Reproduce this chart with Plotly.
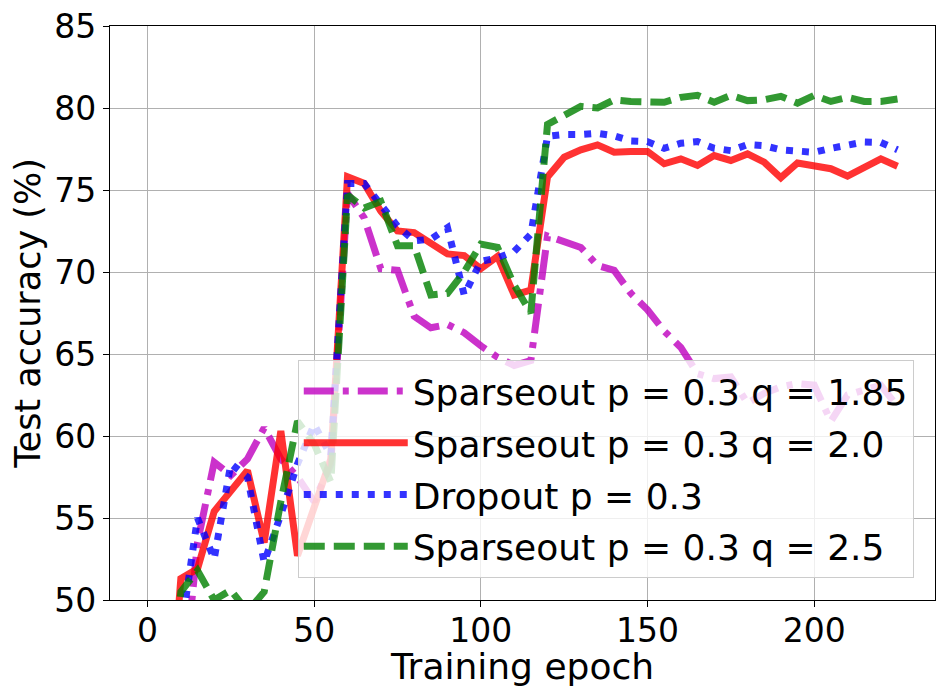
import plotly.graph_objects as go

epochs = [0, 5, 10, 15, 20, 25, 30, 35, 40, 45, 50, 55, 60, 65, 70, 75, 80, 85, 90, 95,
          100, 105, 110, 115, 120, 125, 130, 135, 140, 145, 150, 155, 160, 165, 170, 175,
          180, 185, 190, 195, 200, 205, 210, 215, 220, 225]

sparse_q185 = [18.0, 33.0, 43.0, 53.5, 58.4, 57.6, 58.6, 60.5, 58.6, 57.5,
               56.0, 58.3, 74.8, 73.3, 70.2, 70.1, 67.3, 66.6, 66.8, 66.3,
               65.5, 64.8, 64.3, 64.6, 72.2, 71.9, 71.5, 70.4, 70.1, 68.7,
               67.7, 66.4, 65.4, 63.8, 63.5, 63.6, 62.0, 62.6, 63.0, 63.2,
               63.1, 60.9, 62.5, 62.8, 63.1, 61.8]

sparse_q20 = [22.0, 38.0, 51.3, 51.9, 55.4, 56.7, 57.9, 53.5, 60.3, 52.7,
              55.7, 58.6, 75.8, 75.4, 73.7, 72.5, 72.4, 71.7, 71.1, 71.0,
              70.2, 70.95, 68.6, 68.9, 75.8, 77.0, 77.45, 77.75, 77.3, 77.35,
              77.35, 76.6, 76.9, 76.5, 77.1, 76.8, 77.2, 76.7, 75.75, 76.65,
              76.45, 76.3, 75.85, 76.4, 76.9, 76.45]

dropout_p03 = [20.0, 38.0, 48.0, 55.0, 52.5, 58.3, 57.5, 52.3, 55.2, 58.3,
               60.7, 58.8, 75.4, 75.4, 74.1, 72.8, 71.9, 72.0, 72.7, 68.6,
               70.65, 70.85, 71.25, 72.3, 78.27, 78.38, 78.38, 78.45, 78.3, 77.99,
               77.95, 77.54, 77.85, 77.95, 77.54, 77.4, 77.77, 77.7, 77.45, 77.34,
               77.3, 77.54, 77.75, 77.93, 77.9, 77.45]

sparse_q25 = [21.0, 40.0, 50.5, 51.8, 50.0, 50.6, 49.3, 50.5, 56.0, 60.9,
              59.5, 57.2, 74.7, 73.9, 74.3, 71.6, 71.6, 68.6, 68.7, 70.0,
              71.7, 71.5, 69.2, 67.5, 79.0, 79.6, 80.1, 80.0, 80.5, 80.4,
              80.4, 80.35, 80.65, 80.77, 80.35, 80.77, 80.45, 80.5, 80.71, 80.3,
              80.77, 80.4, 80.65, 80.4, 80.4, 80.55]

series_names = ["Sparseout p = 0.3 q = 1.85", "Sparseout p = 0.3 q = 2.0",
                "Dropout p = 0.3", "Sparseout p = 0.3 q = 2.5"]
series_values = [sparse_q185, sparse_q20, dropout_p03, sparse_q25]
series_colors = ["rgb(191,0,191)", "rgb(255,0,0)", "rgb(0,0,255)", "rgb(0,128,0)"]
series_dashes = ["30px,9px,6px,9px", "solid", "7px,9px", "21px,9px"]

x_ticks = [0, 50, 100, 150, 200]
y_ticks = [50, 55, 60, 65, 70, 75, 80, 85]

FONT = "DejaVu Sans"

fig = go.Figure()
for i, (name, vals, col, dash) in enumerate(zip(series_names, series_values, series_colors, series_dashes)):
    fig.add_trace(go.Scatter(
        x=epochs, y=vals, mode="lines", name=name,
        line=dict(color=col, width=7, dash=dash),
        opacity=0.8, legendgroup="g%d" % i,
    ))

axis_common = dict(
    showline=True, linecolor="black", linewidth=1.3, mirror=True,
    showgrid=True, gridcolor="#b0b0b0", gridwidth=1,
    ticks="outside", ticklen=6, tickwidth=1.3, tickcolor="black",
    zeroline=False, tickfont=dict(family=FONT, size=33, color="black"),
)

fig.update_xaxes(range=[-11.25, 236.25], tickvals=x_ticks, ticklabelstandoff=-5,
                 title=dict(text="Training epoch", font=dict(family=FONT, size=36, color="black"), standoff=0),
                 **axis_common)
fig.update_yaxes(range=[50, 85], tickvals=y_ticks,
                 title=dict(text="Test accuracy (%)", font=dict(family=FONT, size=35, color="black"), standoff=3),
                 **axis_common)

fig.update_layout(
    width=943, height=687,
    margin=dict(l=110, r=7, t=24, b=87),
    paper_bgcolor="white", plot_bgcolor="white",
    font=dict(family=FONT, color="black"),
    legend=dict(
        x=0.2276, y=0.418, xanchor="left", yanchor="top",
        bgcolor="rgba(255,255,255,0.8)", bordercolor="#cccccc", borderwidth=1,
        font=dict(family=FONT, size=36, color="black"),
        itemwidth=104, tracegroupgap=2, traceorder="grouped",
    ),
    showlegend=True,
)

fig.write_html("out.html")
